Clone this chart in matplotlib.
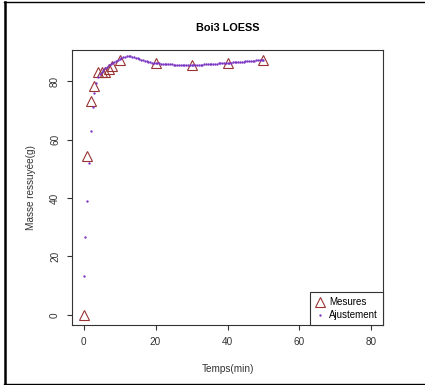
import numpy as np
import matplotlib.pyplot as plt
from matplotlib.lines import Line2D

plt.rcParams['font.family'] = ['Liberation Sans', 'DejaVu Sans']

# Mesures (temps en min, masse ressuyée en g)
temps = [0, 1, 2, 3, 4, 5, 6, 7, 8, 10, 20, 30, 40, 50]
masse = [0, 54.4, 73.3, 78.4, 83.2, 83.2, 83.2, 84.3, 85.1, 87.2, 86.4, 85.5, 86.4, 87.2]

# Ajustement LOESS évalué tous les 0.5 min
temps_fit = np.arange(0, 50.5, 0.5)
masse_fit = [
    13.4, 26.7, 39.0, 52.0, 63.0, 71.0, 76.0, 79.5, 81.5, 82.6,
    83.3, 83.9, 84.4, 84.9, 85.4, 85.8, 86.2, 86.6, 87.0, 87.4,
    87.7, 88.0, 88.2, 88.4, 88.5, 88.5, 88.5, 88.4, 88.2, 88.0,
    87.8, 87.6, 87.4, 87.2, 87.0, 86.8, 86.7, 86.5, 86.4, 86.3,
    86.2, 86.1, 86.1, 86.0, 86.0, 85.9, 85.9, 85.8, 85.8, 85.8,
    85.7, 85.7, 85.7, 85.6, 85.6, 85.6, 85.6, 85.6, 85.6, 85.6,
    85.6, 85.6, 85.6, 85.6, 85.7, 85.7, 85.7, 85.8, 85.8, 85.8,
    85.9, 85.9, 86.0, 86.0, 86.0, 86.1, 86.1, 86.2, 86.2, 86.3,
    86.3, 86.4, 86.4, 86.5, 86.5, 86.6, 86.6, 86.6, 86.7, 86.7,
    86.8, 86.8, 86.9, 86.9, 87.0, 87.0, 87.1, 87.1, 87.2, 87.2,
    87.3,
]

fig = plt.figure(figsize=(4.25, 3.85), dpi=100)
ax = fig.add_axes([72 / 425, 1 - 325 / 385, 311 / 425, 275 / 385])

ax.plot(temps, masse, linestyle='none', marker='^', markersize=6.5,
        markerfacecolor='none', markeredgecolor='#993333', markeredgewidth=0.8,
        label='Mesures')
ax.plot(temps_fit, masse_fit, linestyle='none', marker='o', markersize=1.7,
        color='#7b35c4', markeredgewidth=0, label='Ajustement')

# limites façon R (4 % de marge)
ymin, ymax = min(masse), max(masse)
r = ymax - ymin
ax.set_xlim(-3.2, 83.2)
ax.set_ylim(ymin - 0.04 * r, ymax + 0.04 * r)
ax.set_xticks([0, 20, 40, 60, 80])
ax.set_yticks([0, 20, 40, 60, 80])

for s in ax.spines.values():
    s.set_color('#333333')
    s.set_linewidth(0.8)
ax.tick_params(length=3.6, width=0.8, color='#333333', labelsize=7.2,
               labelcolor='#333333', pad=5)
for lab in ax.get_yticklabels():
    lab.set_rotation(90)
    lab.set_va('center')

ax.set_title('Boi3 LOESS', fontsize=7.8, fontweight='bold', pad=14)
ax.set_xlabel('Temps(min)', fontsize=7.2, color='#333333', labelpad=12)
ax.set_ylabel('Masse ressuyée(g)', fontsize=7.2, color='#333333', labelpad=10)

leg = ax.legend(loc='lower right', borderaxespad=0, fancybox=False,
                edgecolor='#333333', framealpha=1, fontsize=7,
                handlelength=1.0, handletextpad=0.5, borderpad=0.5,
                labelspacing=0.3, markerscale=1.0)
leg.get_frame().set_linewidth(0.8)

# cadre autour de la figure
fig.add_artist(Line2D([4.5 / 425, 4.5 / 425], [1 - 2 / 385, 1 - 384 / 385], color='black', linewidth=1.8))
fig.add_artist(Line2D([4 / 425, 1], [1 - 2 / 385, 1 - 2 / 385], color='black', linewidth=1.0))
fig.add_artist(Line2D([4 / 425, 1], [1 - 383.5 / 385, 1 - 383.5 / 385], color='black', linewidth=1.0))

fig.savefig('out.png', dpi=100)
